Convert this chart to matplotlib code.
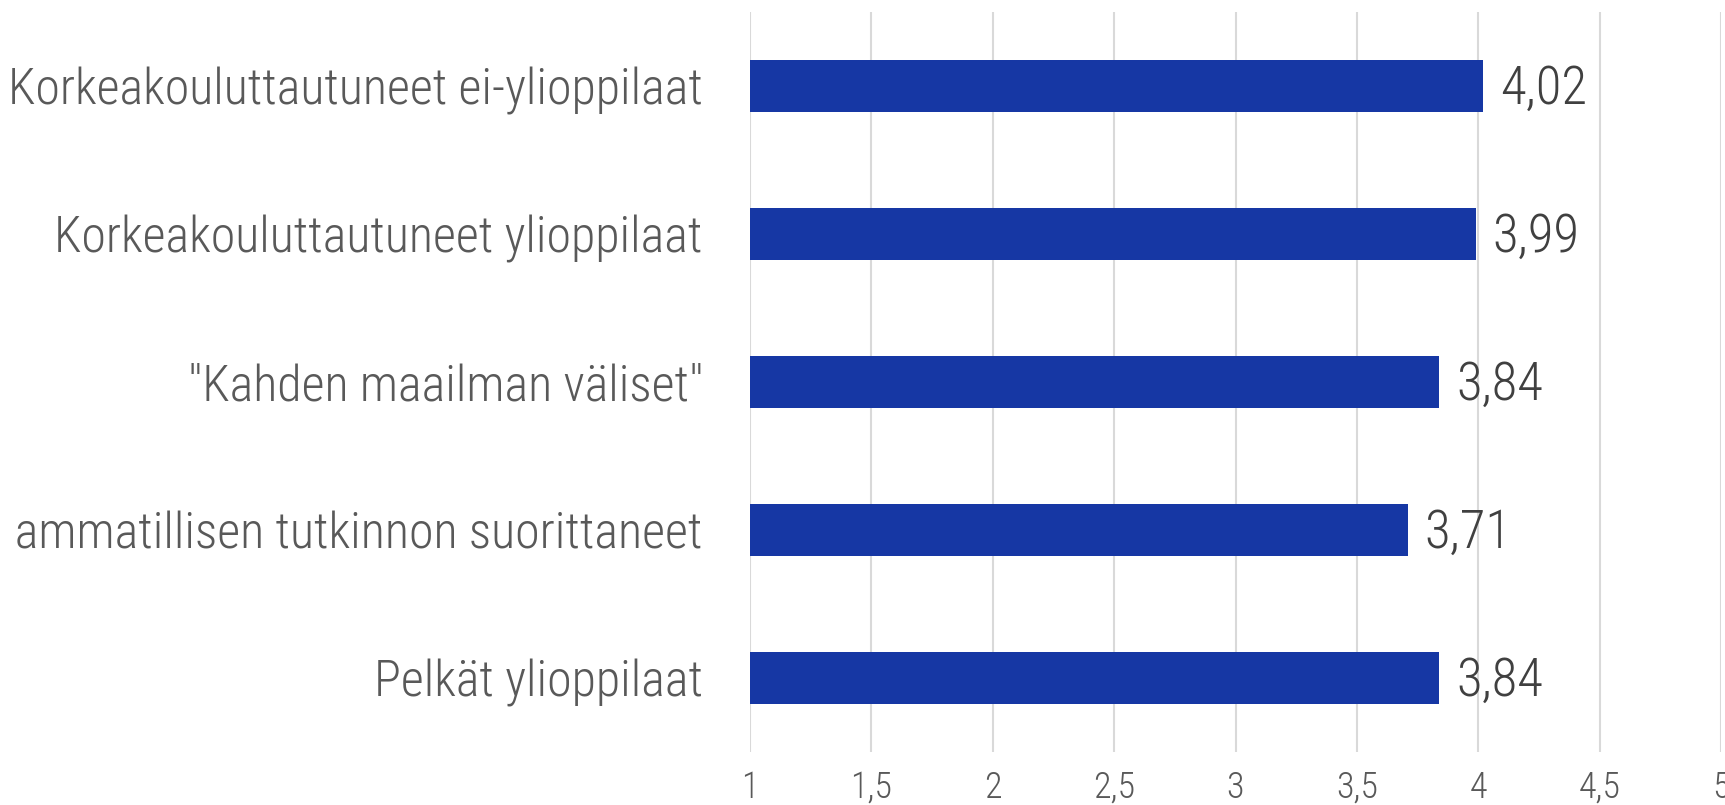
import matplotlib.pyplot as plt

# data, top to bottom as in the chart
groups = [
    "Korkeakouluttautuneet ei-ylioppilaat",
    "Korkeakouluttautuneet ylioppilaat",
    "\"Kahden maailman väliset\"",
    "Pelkän ammatillisen tutkinnon suorittaneet",
    "Pelkät ylioppilaat",
]
scores = [4.02, 3.99, 3.84, 3.71, 3.84]
x_ticks = [1, 1.5, 2, 2.5, 3, 3.5, 4, 4.5, 5]

plt.rcParams["font.family"] = ["Roboto Condensed", "DejaVu Sans"]
plt.rcParams["font.weight"] = "light"

W, H = 1725, 805
fig = plt.figure(figsize=(W / 100, H / 100), dpi=100)
ax = fig.add_axes([750 / W, 53 / H, (1721 - 750) / W, (752 - 12) / H])

ypos = list(range(len(groups)))
ax.barh(ypos, [s - 1 for s in scores], left=1, height=0.35, color="#1637a4", zorder=3)

# value labels with decimal comma
for y, s in zip(ypos, scores):
    ax.annotate(f"{s:.2f}".replace(".", ","), (s, y), xytext=(12, -2),
                textcoords="offset points", va="center", ha="left",
                fontsize=38, color="#404040", fontweight="light")

ax.set_xlim(1, 5)
ax.set_ylim(len(groups) - 0.5, -0.5)
ax.set_yticks(ypos)
ax.set_yticklabels(groups, fontsize=36, color="#595959", fontweight="light")
ax.set_xticks(x_ticks)
ax.set_xticklabels([str(t).replace(".", ",") for t in x_ticks], fontsize=26,
                   color="#595959", fontweight="light")
ax.tick_params(axis="y", length=0, pad=34)
ax.tick_params(axis="x", length=0, pad=13)

ax.grid(axis="x", color="#d9d9d9", linewidth=1.5, zorder=0)
ax.grid(axis="y", visible=False)
for sp in ax.spines.values():
    sp.set_visible(False)

fig.savefig("out.png", dpi=100)
